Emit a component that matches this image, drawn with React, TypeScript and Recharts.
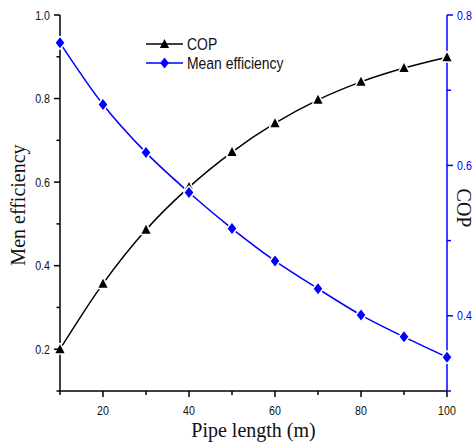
import React from 'react';
import { ComposedChart, Line, XAxis, YAxis, Legend, Label } from 'recharts';

const pipeLength = [10, 20, 30, 40, 50, 60, 70, 80, 90, 100];
const copValues = [0.2, 0.357, 0.486, 0.588, 0.672, 0.741, 0.797, 0.84, 0.873, 0.899];
const meanEfficiency = [0.763, 0.681, 0.617, 0.564, 0.516, 0.473, 0.436, 0.401, 0.372, 0.345];

const xTicks = [10, 20, 30, 40, 50, 60, 70, 80, 90, 100];
const xMajor = [20, 40, 60, 80, 100];
const leftTicks = [0.1, 0.2, 0.3, 0.4, 0.5, 0.6, 0.7, 0.8, 0.9, 1.0];
const leftMajor = [0.2, 0.4, 0.6, 0.8, 1.0];
const rightTicks = [0.3, 0.4, 0.5, 0.6, 0.7, 0.8];
const rightMajor = [0.4, 0.6, 0.8];

const data = pipeLength.map((x, i) => ({ x, cop: copValues[i], eff: meanEfficiency[i] }));

const BLUE = '#0000ff';
const SANS = "'Liberation Sans', Arial, sans-serif";
const SERIF = "'Liberation Serif', 'Times New Roman', serif";
const NARROW_SCALE = 0.82;

const isIn = (arr: number[], v: number) => arr.some((m) => Math.abs(m - v) < 1e-6);

const NarrowText = (props: any) => {
  const { x, y, children, anchor, size, fill, dy } = props;
  return (
    <text
      transform={`translate(${x}, ${y}) scale(${NARROW_SCALE}, 1)`}
      x={0}
      y={0}
      dy={dy}
      textAnchor={anchor}
      fontFamily={SANS}
      fontSize={size}
      fill={fill}
    >
      {children}
    </text>
  );
};

const BottomTick = (props: any) => {
  const { x, y, payload } = props;
  const major = isIn(xMajor, payload.value);
  return (
    <g>
      <line x1={x} x2={x} y1={y} y2={y + (major ? 6 : 4)} stroke="#000" strokeWidth={1.5} />
      {major && (
        <NarrowText x={x} y={y + 24} anchor="middle" size={13} fill="#111">
          {payload.value}
        </NarrowText>
      )}
    </g>
  );
};

const TopTick = (props: any) => {
  const { x, y } = props;
  return <line x1={x} x2={x} y1={y} y2={y + 8} stroke="#000" strokeWidth={1.5} />;
};

const LeftTick = (props: any) => {
  const { x, y, payload } = props;
  const major = isIn(leftMajor, payload.value);
  return (
    <g>
      <line x1={x - (major ? 6 : 3.5)} x2={x} y1={y} y2={y} stroke="#000" strokeWidth={1.5} />
      {major && (
        <NarrowText x={x - 10} y={y} dy="0.36em" anchor="end" size={13} fill="#111">
          {Number(payload.value).toFixed(1)}
        </NarrowText>
      )}
    </g>
  );
};

const RightTick = (props: any) => {
  const { x, y, payload } = props;
  const major = isIn(rightMajor, payload.value);
  return (
    <g>
      <line x1={x} x2={x + (major ? 6 : 4)} y1={y} y2={y} stroke={BLUE} strokeWidth={1.5} />
      {major && (
        <NarrowText x={x + 10} y={y} dy="0.36em" anchor="start" size={13} fill={BLUE}>
          {Number(payload.value).toFixed(1)}
        </NarrowText>
      )}
    </g>
  );
};

const triPoints = (cx: number, cy: number) =>
  `${cx},${cy - 5} ${cx + 4.6},${cy + 4} ${cx - 4.6},${cy + 4}`;
const diaPoints = (cx: number, cy: number) =>
  `${cx},${cy - 5.5} ${cx + 4.3},${cy} ${cx},${cy + 5.5} ${cx - 4.3},${cy}`;

const TriangleDot = (props: any) => {
  const { cx, cy, index } = props;
  if (cx == null || cy == null) return <g key={`t${index}`} />;
  return (
    <polygon key={`t${index}`} points={triPoints(cx, cy)} fill="#000" stroke="#fff" strokeWidth={3} paintOrder="stroke" strokeLinejoin="round" />
  );
};

const DiamondDot = (props: any) => {
  const { cx, cy, index } = props;
  if (cx == null || cy == null) return <g key={`d${index}`} />;
  return (
    <polygon key={`d${index}`} points={diaPoints(cx, cy)} fill={BLUE} stroke="#fff" strokeWidth={3} paintOrder="stroke" strokeLinejoin="round" />
  );
};

const LegendContent = () => (
  <svg width={170} height={44} style={{ display: 'block' }}>
    <line x1={6} x2={43} y1={14} y2={14} stroke="#000" strokeWidth={1.5} />
    <polygon points={triPoints(24.5, 14)} fill="#000" />
    <NarrowText x={47} y={14} dy="0.36em" anchor="start" size={17} fill="#111">COP</NarrowText>
    <line x1={6} x2={43} y1={33} y2={33} stroke={BLUE} strokeWidth={1.5} />
    <polygon points={diaPoints(24.5, 33)} fill={BLUE} />
    <NarrowText x={47} y={33} dy="0.36em" anchor="start" size={17} fill="#111">Mean efficiency</NarrowText>
  </svg>
);

const LeftTitle = (props: any) => {
  const vb = props.viewBox;
  const x = vb.x + 25;
  const y = vb.y + vb.height / 2 + 2;
  return (
    <text x={x} y={y} transform={`rotate(-90, ${x}, ${y})`} textAnchor="middle" fontFamily={SERIF} fontSize={20} fill="#111">
      Men efficiency
    </text>
  );
};

const RightTitle = (props: any) => {
  const vb = props.viewBox;
  const x = vb.x + 10;
  const y = vb.y + vb.height / 2 + 5;
  return (
    <text x={x} y={y} transform={`rotate(90, ${x}, ${y})`} textAnchor="middle" fontFamily={SERIF} fontSize={20} fill="#111">
      COP
    </text>
  );
};

const BottomTitle = (props: any) => {
  const vb = props.viewBox;
  const x = vb.x + vb.width / 2;
  const y = vb.y + 45.5;
  return (
    <text x={x} y={y} textAnchor="middle" fontFamily={SERIF} fontSize={20} fill="#111">
      Pipe length (m)
    </text>
  );
};

export default function App() {
  return (
    <div style={{ position: 'absolute', left: 0, top: 0, width: 475, height: 443, background: '#fff' }}>
      <ComposedChart width={475} height={443} data={data} margin={{ top: 15, right: 0, bottom: 0, left: 0 }}>
        <XAxis
          dataKey="x"
          type="number"
          domain={[10, 100]}
          ticks={xTicks}
          interval={0}
          height={52}
          tickSize={0}
          tickMargin={0}
          tick={<BottomTick />}
          axisLine={{ stroke: '#000', strokeWidth: 1.5 }}
          tickLine={false}
        >
          <Label content={<BottomTitle />} />
        </XAxis>
        <XAxis
          xAxisId="top"
          orientation="top"
          dataKey="x"
          type="number"
          domain={[10, 100]}
          ticks={xTicks}
          interval={0}
          height={0}
          tickSize={0}
          tickMargin={0}
          tick={<TopTick />}
          axisLine={{ stroke: '#000', strokeWidth: 1.5 }}
          tickLine={false}
        />
        <YAxis
          yAxisId="left"
          orientation="left"
          type="number"
          domain={[0.1, 1.0]}
          ticks={leftTicks}
          interval={0}
          width={60}
          tickSize={0}
          tickMargin={0}
          tick={<LeftTick />}
          axisLine={{ stroke: '#000', strokeWidth: 1.5 }}
          tickLine={false}
        >
          <Label content={<LeftTitle />} />
        </YAxis>
        <YAxis
          yAxisId="right"
          orientation="right"
          type="number"
          domain={[0.3, 0.8]}
          ticks={rightTicks}
          interval={0}
          width={28}
          tickSize={0}
          tickMargin={0}
          tick={<RightTick />}
          axisLine={{ stroke: BLUE, strokeWidth: 1.5 }}
          tickLine={false}
        >
          <Label content={<RightTitle />} />
        </YAxis>
        <Legend
          layout="vertical"
          align="center"
          verticalAlign="middle"
          content={<LegendContent />}
          wrapperStyle={{ position: 'absolute', left: 140, top: 30, width: 170, height: 44 }}
        />
        <Line
          yAxisId="left"
          dataKey="cop"
          name="COP"
          type="monotone"
          stroke="#000"
          strokeWidth={1.5}
          dot={<TriangleDot />}
          activeDot={false}
          isAnimationActive={false}
        />
        <Line
          yAxisId="right"
          dataKey="eff"
          name="Mean efficiency"
          type="monotone"
          stroke={BLUE}
          strokeWidth={1.5}
          dot={<DiamondDot />}
          activeDot={false}
          isAnimationActive={false}
        />
      </ComposedChart>
    </div>
  );
}
